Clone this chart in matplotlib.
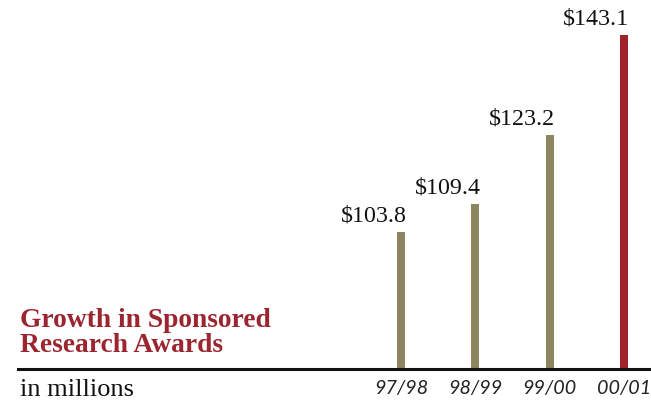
import matplotlib
matplotlib.use("Agg")
import matplotlib.pyplot as plt

years = ["97/98", "98/99", "99/00", "00/01"]
values = [103.8, 109.4, 123.2, 143.1]
labels = ["$103.8", "$109.4", "$123.2", "$143.1"]
colors = ["#8b8660", "#8b8660", "#8b8660", "#a0232a"]

W, H = 651, 408
fig = plt.figure(figsize=(W / 100, H / 100), dpi=100)
# axes: left at x=18px, bottom at baseline y=369 px from top
ax = fig.add_axes([18 / W, (H - 369) / H, 1 - 18 / W, 369 / H])

xs = list(range(len(years)))
bar_w = 8 / 74.3
ax.bar(xs, values, width=bar_w, color=colors, zorder=2)
ax.set_xlim(-5.155, 3.363)
ax.set_ylim(76.5, 150.0)

for x, v, lab in zip(xs, values, labels):
    ax.text(x + bar_w / 2 + 0.02, v + 1.0, lab, ha="right", va="bottom",
            fontsize=17.3, family="Liberation Serif", color="#111111")

for s in ["top", "right", "left"]:
    ax.spines[s].set_visible(False)
ax.spines["bottom"].set_linewidth(2.2)
ax.spines["bottom"].set_color("#111111")
ax.set_yticks([])
ax.set_xticks(xs)
ax.set_xticklabels(years, fontsize=14.2, family="Lato", style="italic", color="#222222")
ax.tick_params(axis="x", length=0, pad=8)

fig.text(20 / W, 1 - 352 / H, "Growth in Sponsored\nResearch Awards", ha="left",
         va="baseline", fontsize=19.8, fontweight="bold", family="Liberation Serif",
         color="#9b2630", linespacing=1.0)
fig.text(20 / W, 1 - 396 / H, "in millions", ha="left", va="baseline",
         fontsize=19, family="Liberation Serif", color="#111111")

fig.savefig("out.png", dpi=100)
